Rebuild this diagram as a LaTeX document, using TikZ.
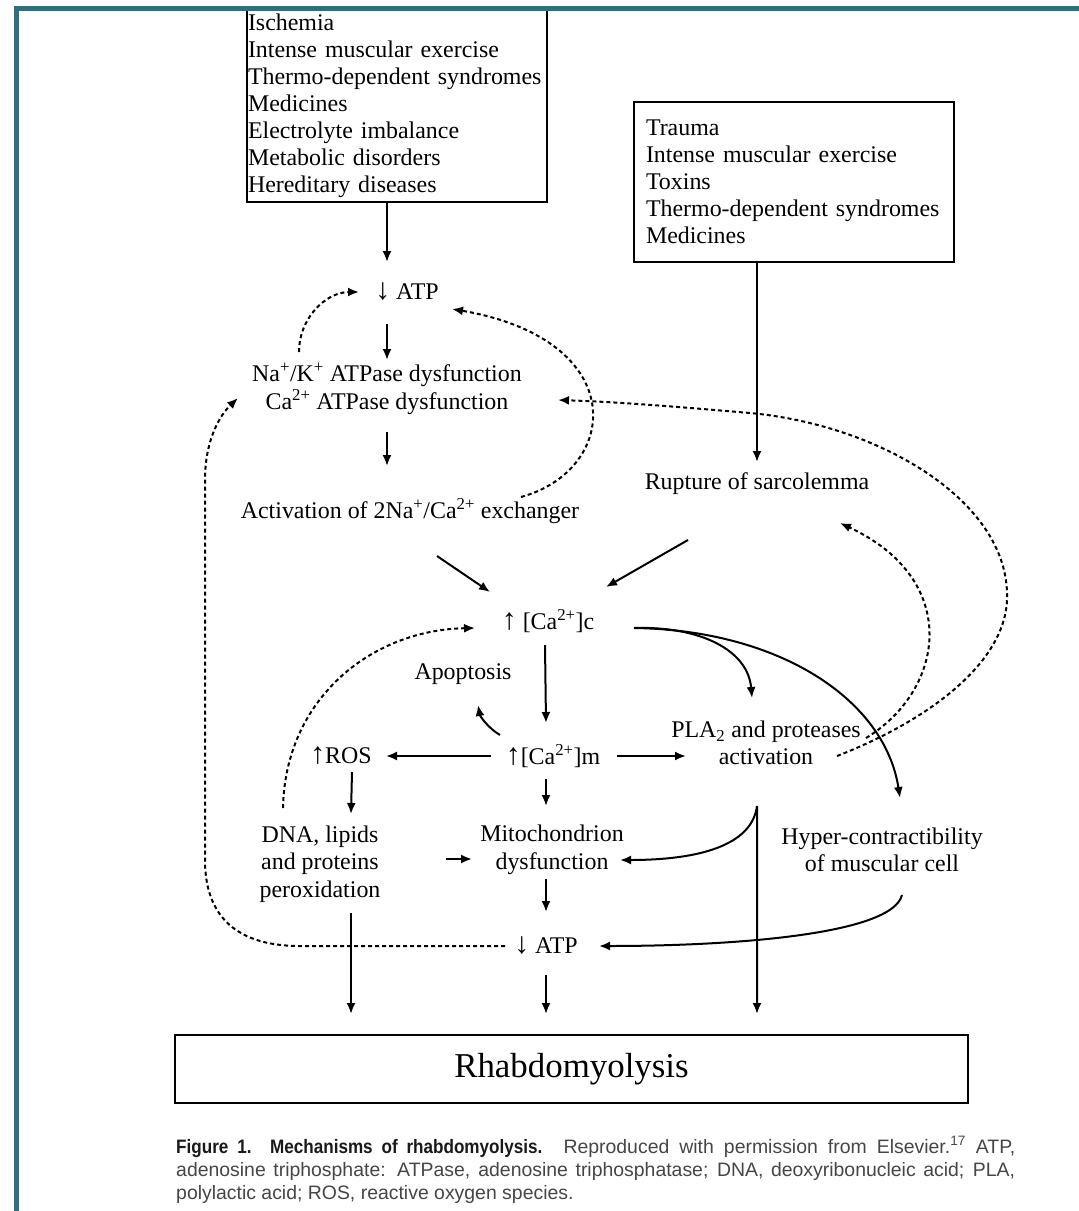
\documentclass[tikz,border=0pt]{standalone}
\usepackage{fontspec}
\setmainfont{Liberation Serif}
\newfontfamily\capfont{Liberation Sans}
\newfontfamily\capboldfont[FakeStretch=0.88]{Liberation Sans}
\usetikzlibrary{arrows.meta,positioning}
\definecolor{frameteal}{RGB}{46,112,128}
\definecolor{capgray}{RGB}{70,70,70}
\newcommand{\arrUp}{{\fontsize{30}{30}\selectfont ↑}}
\newcommand{\arrDown}{{\fontsize{30}{30}\selectfont ↓}}

\begin{document}
\begin{tikzpicture}[
    x=1bp, y=-1bp,
    every node/.style={font=\fontsize{24}{27.6}\selectfont},
    txt/.style={align=center, inner sep=2bp},
    causebox/.style={draw, line width=2bp, align=left, inner ysep=1bp, anchor=south west, font=\fontsize{24}{27.2}\selectfont},
    arr/.style={-{Latex[length=11bp,width=9bp]}, line width=2bp},
    fb/.style={arr, dash pattern=on 4bp off 3bp},
    caption/.style={anchor=west, inner sep=0pt, font=\capfont\fontsize{19.5}{22}\selectfont, text=capgray}
]
\useasboundingbox (0,0) rectangle (1079,1211);
\fill[white] (0,0) rectangle (1079,1211);

% Causes
\node[causebox, text width=298bp, inner xsep=1bp, inner ysep=4bp] (causesA) at (246,203) {Ischemia\\Intense muscular exercise\\Thermo-dependent syndromes\\Medicines\\Electrolyte imbalance\\Metabolic disorders\\Hereditary diseases};
\node[causebox, text width=296bp, inner xsep=12bp, minimum height=160bp] (causesB) at (633,263) {Trauma\\Intense muscular exercise\\Toxins\\Thermo-dependent syndromes\\Medicines};

% Upper chain
\node[txt] (atpTop) at (407,292) {\arrDown\ ATP};
\node[txt] (nak) at (387,389) {Na\textsuperscript{+}/K\textsuperscript{+} ATPase dysfunction\\Ca\textsuperscript{2+} ATPase dysfunction};
\node[txt] (exch) at (410,511) {Activation of 2Na\textsuperscript{+}/Ca\textsuperscript{2+} exchanger};
\node[txt] (rupture) at (757,484) {Rupture of sarcolemma};

% Calcium
\node[txt] (cac) at (548,621) {\arrUp\ [Ca\textsuperscript{2+}]c};
\node[txt] (apop) at (463,674) {Apoptosis};
\node[txt] (cam) at (553,756) {\arrUp[Ca\textsuperscript{2+}]m};
\node[txt] (ros) at (341,756) {\arrUp ROS};
\node[txt] (pla) at (766,743) {PLA\textsubscript{2} and proteases\\activation};

% Consequences
\node[txt] (dna) at (320,864) {DNA, lipids\\and proteins\\peroxidation};
\node[txt] (mito) at (552,850) {Mitochondrion\\dysfunction};
\node[txt] (hyper) at (882,850) {Hyper-contractibility\\of muscular cell};
\node[txt] (atpBot) at (546,946) {\arrDown\ ATP};

\node[draw, line width=2bp, minimum width=793bp, minimum height=68bp, font=\fontsize{35}{40}\selectfont] (rhabdo) at (571.5,1069) {Rhabdomyolysis};

% Straight arrows
\draw[arr] (causesA.south -| nak) -- ([shift={(-20,-30)}]atpTop.center);
\draw[arr] ([shift={(-20,32)}]atpTop.center) -- ([shift={(0,-29)}]nak.center);
\draw[arr] ([shift={(0,43)}]nak.center) -- ([shift={(-23,-45)}]exch.center);
\draw[arr] (causesB.south -| rupture) -- ([shift={(0,-22)}]rupture.center);
\draw[arr] ([shift={(27,45)}]exch.center) -- ([shift={(-58,-29)}]cac.center);
\draw[arr] ([shift={(-69,56)}]rupture.center) -- ([shift={(58,-34)}]cac.center);
\draw[arr] ([shift={(-3,24)}]cac.center) -- ([shift={(-7,-33)}]cam.center);
\draw[arr] ([shift={(-62,0)}]cam.center) -- ([shift={(45,0)}]ros.center);
\draw[arr] ([shift={(64,0)}]cam.center) -- ([shift={(-80,13)}]pla.center);
\draw[arr] ([shift={(11,16)}]ros.center) -- ([shift={(31,-50)}]dna.center);
\draw[arr] ([shift={(-7,23)}]cam.center) -- ([shift={(-6,-44)}]mito.center);
\draw[arr] ([shift={(126,-5)}]dna.center) -- ([shift={(-80,9)}]mito.center);
\draw[arr] ([shift={(-6,29)}]mito.center) -- ([shift={(0,-34)}]atpBot.center);
\draw[arr] ([shift={(31,49)}]dna.center) -- ([shift={(-220.5,-55)}]rhabdo.center);
\draw[arr] ([shift={(0,29)}]atpBot.center) -- ([shift={(-25.5,-55)}]rhabdo.center);
\draw[arr] ([shift={(-9,63)}]pla.center) -- ([shift={(185.5,-55)}]rhabdo.center);

% Curved arrows
\draw[arr] ([shift={(-53,-21)}]cam.center) .. controls (488,728) and (480,716) .. ([shift={(15,31)}]apop.center);
\draw[arr] ([shift={(86,7)}]cac.center) .. controls (700,626) and (748,650) .. ([shift={(-14,-45)}]pla.center);
\draw[arr] ([shift={(86,7)}]cac.center) .. controls (780,630) and (885,700) .. ([shift={(18,-52)}]hyper.center);
\draw[arr] ([shift={(-9,63)}]pla.center) .. controls (752,845) and (700,860) .. ([shift={(68,10)}]mito.center);
\draw[arr] ([shift={(20,45)}]hyper.center) .. controls (892,935) and (730,946) .. ([shift={(53,0)}]atpBot.center);

% Feedback loops
\draw[fb] ([shift={(-88,-37)}]nak.center) .. controls (299,318) and (326,292) .. ([shift={(-48,0)}]atpTop.center);
\draw[fb] ([shift={(111,-14)}]exch.center) .. controls (620,470) and (632,340) .. ([shift={(45,17)}]atpTop.center);
\draw[fb] ([shift={(71,13)}]pla.center) .. controls (930,720) and (1010,660) .. (1007,593)
    .. controls (1005,500) and (880,425) .. (750,413)
    .. controls (680,407) and (620,402) .. ([shift={(171,11)}]nak.center);
\draw[fb] ([shift={(100,-5)}]pla.center) .. controls (945,690) and (962,580) .. ([shift={(83,39)}]rupture.center);
\draw[fb] ([shift={(-37,-56)}]dna.center) .. controls (285,700) and (370,630) .. ([shift={(-73,7)}]cac.center);
\draw[fb] ([shift={(-41,0)}]atpBot.center) -- (300,946) .. controls (230,946) and (205,910) .. (205,860)
    -- (205,480) .. controls (205,440) and (220,415) .. ([shift={(-149,9)}]nak.center);

% Caption
\node[caption] (capA) at (176,1147) {\makebox[839bp][s]{{\capboldfont\bfseries\color{black!90}Figure 1. Mechanisms of rhabdomyolysis.} Reproduced with permission from Elsevier.\textsuperscript{17} ATP,}};
\node[caption] (capB) at (176,1171) {\makebox[839bp][s]{adenosine triphosphate: ATPase, adenosine triphosphatase; DNA, deoxyribonucleic acid; PLA,}};
\node[caption] (capC) at (176,1194) {polylactic acid; ROS, reactive oxygen species.};

% Frame
\draw[line width=5bp, frameteal] (16,1211) -- (16,8) -- (1079,8);
\end{tikzpicture}
\end{document}
